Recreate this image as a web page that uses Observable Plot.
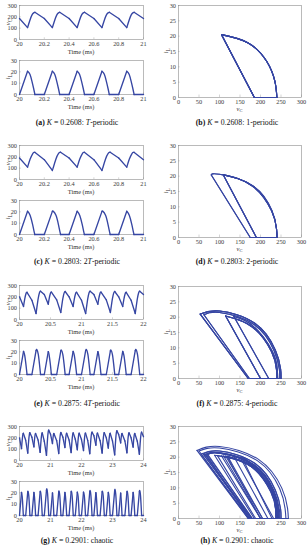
<!DOCTYPE html>
<html><head><meta charset="utf-8">
<script src="https://cdn.jsdelivr.net/npm/d3@7"></script>
<script src="https://cdn.jsdelivr.net/npm/@observablehq/plot@0.6"></script>
<style>
body{margin:0;background:#fff;}
#fig{position:relative;width:307px;height:550px;overflow:hidden;background:#fff;font-family:"Liberation Serif","Times New Roman",serif;color:#222;}
.abs{position:absolute;white-space:nowrap;line-height:1;}
.xl{font-size:6.4px;color:#333;transform:translate(-50%,-50%);}
.yl{font-size:7px;color:#333;transform:translate(-50%,-50%) rotate(-90deg);}
.yl span,.xl span.s{font-size:0.72em;position:relative;top:0.3em;font-style:normal;}
.cap{font-size:7.8px;color:#111;transform:translate(-50%,-50%);}
</style></head><body><div id="fig"></div>
<script>
// ---------- data: rows are [time (ms), vC, iL] ----------
const tsA = [ // K = 0.2608, T-periodic
[20.000,185,0],[20.065,105,20.5],[20.084,170,17.8],[20.100,215,11.8],[20.114,235,5.3],[20.124,240,0],
[20.200,185,0],[20.265,105,20.5],[20.284,170,17.8],[20.300,215,11.8],[20.314,235,5.3],[20.324,240,0],
[20.400,185,0],[20.465,105,20.5],[20.484,170,17.8],[20.500,215,11.8],[20.514,235,5.3],[20.524,240,0],
[20.600,185,0],[20.665,105,20.5],[20.684,170,17.8],[20.700,215,11.8],[20.714,235,5.3],[20.724,240,0],
[20.800,185,0],[20.865,105,20.5],[20.884,170,17.8],[20.900,215,11.8],[20.914,235,5.3],[20.924,240,0],
[21.000,185,0]];

const tsC = [ // K = 0.2803, 2T-periodic
[20.000,190,0],[20.065,109,20.5],[20.086,180,16.8],[20.106,227,8.7],[20.117,239,2.9],[20.123,240,0],
[20.200,175,0],[20.265,80,20.4],[20.271,100,20.6],[20.294,181,16.9],[20.314,228,8.7],[20.325,239,2.9],[20.331,241,0],
[20.400,190,0],[20.465,109,20.5],[20.486,180,16.8],[20.506,227,8.7],[20.517,239,2.9],[20.523,240,0],
[20.600,175,0],[20.665,80,20.4],[20.671,100,20.6],[20.694,181,16.9],[20.714,228,8.7],[20.725,239,2.9],[20.731,241,0],
[20.800,190,0],[20.865,109,20.5],[20.886,180,16.8],[20.906,227,8.7],[20.917,239,2.9],[20.923,240,0],
[21.000,175,0]];

const tsE = [ // K = 0.2875, 4T-periodic
[20.000,200,0],[20.065,115,20.4],[20.084,180,16.8],[20.104,227,8.7],[20.116,239,2.9],[20.121,240,0],
[20.200,170,0],[20.267,53,21],[20.279,100,22],[20.302,186,18],[20.322,236,9.3],[20.334,249,3.1],[20.339,250,0],
[20.400,220,0],[20.464,135,20.2],[20.478,182,17.1],[20.498,229,8.8],[20.509,241,2.9],[20.515,242,0],
[20.600,173,0],[20.666,62,20.8],[20.676,100,21.5],[20.699,184,17.6],[20.719,233,9.1],[20.731,246,3],[20.736,247,0],
[20.800,200,0],[20.865,115,20.4],[20.884,180,16.8],[20.904,227,8.7],[20.916,239,2.9],[20.921,240,0],
[21.000,170,0],[21.067,53,21],[21.079,100,22],[21.102,186,18],[21.122,236,9.3],[21.134,249,3.1],[21.139,250,0],
[21.200,220,0],[21.264,135,20.2],[21.278,182,17.1],[21.298,229,8.8],[21.309,241,2.9],[21.315,242,0],
[21.400,173,0],[21.466,62,20.8],[21.476,100,21.5],[21.499,184,17.6],[21.519,233,9.1],[21.531,246,3],[21.536,247,0],
[21.600,200,0],[21.665,115,20.4],[21.684,180,16.8],[21.704,227,8.7],[21.716,239,2.9],[21.721,240,0],
[21.800,170,0],[21.867,53,21],[21.879,100,22],[21.902,186,18],[21.922,236,9.3],[21.934,249,3.1],[21.939,250,0],
[22.000,220,0]];

const tsG = [ // K = 0.2901, chaotic
[20.000,200,0],[20.065,105,20.4],[20.087,180,16.7],[20.107,227,8.6],[20.118,239,2.8],[20.124,240,0],
[20.200,178,0],[20.266,65,20.8],[20.275,100,21.4],[20.299,183,17.5],[20.319,231,9.1],[20.330,244,3],[20.335,245,0],
[20.400,205,0],[20.465,120,20.3],[20.482,179,16.8],[20.502,225,8.7],[20.514,237,2.9],[20.519,238,0],
[20.600,180,0],[20.666,72,20.8],[20.674,100,21.3],[20.697,183,17.4],[20.717,231,9],[20.728,243,3],[20.734,244,0],
[20.800,170,0],[20.870,45,22.2],[20.883,100,23.5],[20.906,196,19.2],[20.926,252,9.9],[20.937,266,3.3],[20.943,268,0],
[21.000,232,0],[21.064,150,20],[21.073,179,17.6],[21.093,225,9.1],[21.104,237,3],[21.109,238,0],
[21.200,175,0],[21.266,62,20.8],[21.276,100,21.5],[21.299,184,17.6],[21.319,233,9.1],[21.331,246,3],[21.336,247,0],
[21.400,205,0],[21.465,115,20.4],[21.484,180,16.8],[21.504,227,8.7],[21.516,239,2.9],[21.521,240,0],
[21.600,180,0],[21.666,70,20.8],[21.674,100,21.3],[21.697,183,17.4],[21.717,231,9],[21.728,243,3],[21.734,244,0],
[21.800,188,0],[21.865,95,20.5],[21.890,181,16.9],[21.910,228,8.7],[21.921,240,2.9],[21.926,241,0],
[22.000,185,0],[22.065,88,20.6],[22.092,182,17.1],[22.112,229,8.8],[22.123,241,2.9],[22.128,242,0],
[22.200,178,0],[22.267,60,21],[22.279,100,22],[22.302,186,18],[22.322,236,9.3],[22.334,249,3.1],[22.339,250,0],
[22.400,218,0],[22.464,135,20.2],[22.478,182,17.1],[22.498,229,8.8],[22.509,241,2.9],[22.515,242,0],
[22.600,175,0],[22.666,66,20.8],[22.675,100,21.4],[22.699,183,17.5],[22.719,231,9.1],[22.730,244,3],[22.735,245,0],
[22.800,200,0],[22.865,110,20.4],[22.887,180,16.7],[22.907,227,8.6],[22.918,239,2.8],[22.924,240,0],
[23.000,172,0],[23.070,50,22],[23.082,100,23],[23.105,193,18.8],[23.125,247,9.7],[23.137,260,3.2],[23.142,262,0],
[23.200,228,0],[23.263,155,19.8],[23.271,179,17.6],[23.291,225,9.1],[23.302,237,3],[23.307,238,0],
[23.400,172,0],[23.466,68,20.8],[23.474,100,21.3],[23.497,183,17.4],[23.517,231,9],[23.528,243,3],[23.534,244,0],
[23.600,200,0],[23.665,118,20.3],[23.682,179,16.8],[23.702,225,8.7],[23.714,237,2.9],[23.719,238,0],
[23.800,170,0],[23.867,55,21],[23.879,100,22],[23.902,186,18],[23.922,236,9.3],[23.934,249,3.1],[23.939,250,0],
[24.000,210,0]];

// ---------- tick labels ----------
const timeTicks1 = [20, 20.2, 20.4, 20.6, 20.8, 21];
const timeTicks2 = [20, 20.5, 21, 21.5, 22];
const timeTicks4 = [20, 21, 22, 23, 24];
const vTicks = [0, 100, 200, 300];
const iTicks = [0, 10, 20, 30];
const vcTicks = [0, 50, 100, 150, 200, 250, 300];
const ilTicks = [0, 5, 10, 15, 20, 25, 30];

// ---------- captions ----------
const capLetters = ["(a)","(b)","(c)","(d)","(e)","(f)","(g)","(h)"];
const capK = ["0.2608","0.2608","0.2803","0.2803","0.2875","0.2875","0.2901","0.2901"];
const capKind = ["<i>T</i>-periodic","1-periodic","2<i>T</i>-periodic","2-periodic","4<i>T</i>-periodic","4-periodic","chaotic","chaotic"];

// ---------- layout ----------
const LINE = "#3646a3";
const FRAME = "#8c8c8c";
const fig = document.getElementById("fig");
const styleSvg = {fontFamily: "Liberation Serif, Times New Roman, serif", fontSize: "6.3px", color: "#3a3a3a", background: "transparent", overflow: "visible"};

// split a run into straight pieces (switch-on ramp, iL = 0 interval) and the resonant arcs
function pieces(rows) {
  const lin = [], arc = [];
  let id = 0;
  for (let i = 0; i < rows.length - 1; i++) {
    const a = rows[i], b = rows[i + 1];
    if (a[2] === 0) { // ramp or zero interval: straight
      id++; lin.push({r: a, z: id}, {r: b, z: id});
    }
    if (b[2] !== 0 || a[2] !== 0) {
      if (a[2] !== 0 || (b[2] !== 0 && false)) {}
    }
  }
  // arcs: from the corner (first row with iL>0 after a zero) to the next zero row
  let cur = null;
  for (let i = 1; i < rows.length; i++) {
    const p = rows[i - 1], r = rows[i];
    if (p[2] === 0 && r[2] > 0) { id++; cur = id; arc.push({r, z: cur}); }
    else if (cur !== null && p[2] > 0) { arc.push({r, z: cur}); if (r[2] === 0) cur = null; }
  }
  return {lin, arc};
}

function place(el, left, top) {
  el.style.position = "absolute";
  el.style.left = left + "px";
  el.style.top = top + "px";
  fig.appendChild(el);
}
function html(cls, x, y, inner) {
  const d = document.createElement("div");
  d.className = "abs " + cls;
  d.innerHTML = inner;
  d.style.left = x + "px"; d.style.top = y + "px";
  fig.appendChild(d);
}

function timePlot(rows, col, yTicks, xTicks, frameTop, frameH) {
  const mt = 4, mb = 11;
  const x0 = xTicks[0], x1 = xTicks[xTicks.length - 1];
  const y0 = yTicks[0], y1 = yTicks[yTicks.length - 1];
  const {lin, arc} = pieces(rows);
  const lineOpts = {x: d => d.r[0], y: d => d.r[col], z: "z", stroke: LINE, strokeWidth: 1.35, strokeLinejoin: "round", strokeLinecap: "round"};
  const svg = Plot.plot({
    width: 152, height: mt + frameH + mb,
    marginLeft: 19, marginRight: 9, marginTop: mt, marginBottom: mb,
    style: styleSvg,
    x: {domain: [x0, x1], ticks: xTicks, tickSize: 0, tickPadding: 2.5, label: null, tickFormat: d => String(d)},
    y: {domain: [y0, y1], ticks: yTicks, tickSize: 0, tickPadding: 2.5, label: null, tickFormat: d => String(d)},
    marks: [
      Plot.ruleX(xTicks, {x: d => d, y1: y0, y2: y0 + (y1 - y0) * 0.05, stroke: "#aaa", strokeWidth: 0.5}),
      Plot.ruleY(yTicks, {y: d => d, x1: x0, x2: x0 + (x1 - x0) * 0.015, stroke: "#aaa", strokeWidth: 0.5}),
      Plot.frame({stroke: FRAME, strokeWidth: 0.6}),
      Plot.line(lin, {...lineOpts, curve: "linear"}),
      Plot.line(arc, {...lineOpts, curve: "natural"})
    ]
  });
  place(svg, 0, frameTop - mt);
  html("xl", 81, frameTop + frameH + 13, "Time (ms)");
  html("yl", 8, frameTop + frameH / 2, col === 1 ? "<i>v</i><span>C</span>" : "<i>i</i><span>L</span>");
}

function phasePlot(rows, frameTop, frameH) {
  const mt = 4, mb = 11;
  const {lin, arc} = pieces(rows);
  const lineOpts = {x: d => d.r[1], y: d => d.r[2], z: "z", stroke: LINE, strokeWidth: 1.1, strokeLinejoin: "round", strokeLinecap: "round"};
  const svg = Plot.plot({
    width: 142, height: mt + frameH + mb,
    marginLeft: 13, marginRight: 6, marginTop: mt, marginBottom: mb,
    style: styleSvg,
    x: {domain: [0, 300], ticks: vcTicks, tickSize: 0, tickPadding: 2.5, label: null, tickFormat: d => String(d)},
    y: {domain: [0, 30], ticks: ilTicks, tickSize: 0, tickPadding: 2.5, label: null, tickFormat: d => String(d)},
    marks: [
      Plot.ruleX(vcTicks, {x: d => d, y1: 0, y2: 0.8, stroke: "#aaa", strokeWidth: 0.5}),
      Plot.ruleY(ilTicks, {y: d => d, x1: 0, x2: 4, stroke: "#aaa", strokeWidth: 0.5}),
      Plot.frame({stroke: FRAME, strokeWidth: 0.6}),
      Plot.line(lin, {...lineOpts, curve: "linear"}),
      Plot.line(arc, {...lineOpts, curve: "natural"})
    ]
  });
  place(svg, 165, frameTop - mt);
  html("xl", 239.5, frameTop + frameH + 12, "<i>v</i><span class='s'>C</span>");
  html("yl", 166, frameTop + frameH / 2, "<i>i</i><span>L</span>");
}

const sets = [
  {ts: tsA, ticks: timeTicks1, vTop: 5,   iTop: 60,  pTop: 5,   cap: 123},
  {ts: tsC, ticks: timeTicks1, vTop: 145, iTop: 200, pTop: 145, cap: 262},
  {ts: tsE, ticks: timeTicks2, vTop: 285, iTop: 340, pTop: 286, cap: 404},
  {ts: tsG, ticks: timeTicks4, vTop: 426, iTop: 481, pTop: 426, cap: 541}
];

sets.forEach((s, r) => {
  timePlot(s.ts, 1, vTicks, s.ticks, s.vTop, 34);
  timePlot(s.ts, 2, iTicks, s.ticks, s.iTop, 34);
  phasePlot(s.ts, s.pTop, 92);
  const a = 2 * r, b = 2 * r + 1;
  html("cap", 77, s.cap, `<b>${capLetters[a]}</b> <i>K</i> = ${capK[a]}: ${capKind[a]}`);
  html("cap", 237, s.cap, `<b>${capLetters[b]}</b> <i>K</i> = ${capK[b]}: ${capKind[b]}`);
});
</script>
</body></html>
